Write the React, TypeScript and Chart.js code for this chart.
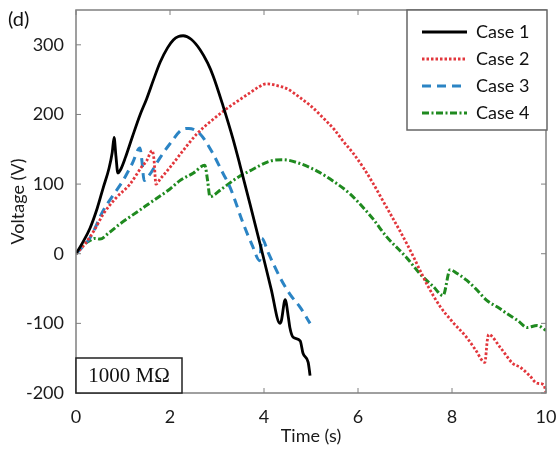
import { useEffect, useRef } from 'react';
import { Chart, registerables } from 'chart.js';

Chart.register(...registerables);

const seriesLabels = ['Case 1', 'Case 2', 'Case 3', 'Case 4'];
const seriesColors = ['#000000', '#e2363c', '#2b84c4', '#1f8a1f'];

const case1Time = [0, 0.15, 0.3, 0.45, 0.58, 0.7, 0.77, 0.81, 0.85, 0.89, 0.95, 1.05, 1.2, 1.36, 1.5, 1.65, 1.79, 1.95, 2.07, 2.18, 2.28, 2.45, 2.64, 2.8, 2.92, 3.13, 3.34, 3.49, 3.7, 3.95, 4.15, 4.34, 4.37, 4.45, 4.52, 4.55, 4.62, 4.77, 4.83, 4.94, 4.98];
const case1Voltage = [0, 17, 37, 65, 95, 122, 145, 167, 140, 116, 121, 138, 168, 199, 222, 250, 275, 296, 307, 312, 313, 308, 293, 274, 255, 212, 165, 127, 72, 5, -50, -100, -96, -66, -92, -106, -120, -125, -143, -156, -175];

const case2Time = [0, 0.19, 0.4, 0.58, 0.85, 1.15, 1.4, 1.5, 1.62, 1.66, 1.7, 1.8, 2.0, 2.3, 2.57, 2.9, 3.2, 3.5, 3.7, 3.9, 4.06, 4.3, 4.49, 4.77, 5.0, 5.26, 5.5, 5.68, 5.9, 6.11, 6.33, 6.53, 6.74, 6.89, 7.05, 7.17, 7.32, 7.5, 7.74, 8.0, 8.31, 8.5, 8.7, 8.75, 8.78, 9.02, 9.3, 9.45, 9.65, 9.81, 9.95, 10];
const case2Voltage = [0, 14, 35, 57, 80, 100, 125, 133, 148, 135, 100, 108, 124, 150, 172, 192, 208, 222, 231, 240, 244, 241, 237, 224, 212, 195, 178, 162, 144, 124, 100, 76, 51, 33, 13, -3, -24, -48, -75, -97, -120, -138, -156, -125, -116, -134, -158, -163, -175, -186, -188, -199];

const case3Time = [0, 0.3, 0.58, 0.8, 1.0, 1.2, 1.36, 1.4, 1.45, 1.55, 1.79, 2.0, 2.28, 2.4, 2.64, 2.92, 3.1, 3.28, 3.56, 3.75, 3.91, 3.95, 4.1, 4.34, 4.55, 4.77, 4.98];
const case3Voltage = [0, 23, 62, 85, 105, 130, 152, 135, 105, 112, 138, 158, 179, 180, 172, 143, 119, 95, 43, 12, -10, 22, 0, -34, -58, -77, -100];

const case4Time = [0, 0.15, 0.3, 0.4, 0.51, 0.7, 0.94, 1.3, 1.64, 2.0, 2.21, 2.5, 2.74, 2.8, 2.85, 3.1, 3.43, 3.7, 4.13, 4.41, 4.7, 5.12, 5.5, 5.83, 6.1, 6.32, 6.6, 7.04, 7.32, 7.6, 7.81, 7.96, 8.1, 8.31, 8.5, 8.74, 9.0, 9.17, 9.4, 9.6, 9.81, 10];
const case4Voltage = [0, 12, 19, 22, 21, 30, 43, 60, 76, 93, 105, 116, 127, 105, 82, 93, 109, 119, 133, 135, 131, 119, 103, 86, 67, 50, 25, -6, -29, -47, -60, -23, -28, -38, -50, -67, -78, -86, -96, -106, -103, -110];

const xTicks = [0, 2, 4, 6, 8, 10];
const yTicks = [-200, -100, 0, 100, 200, 300];

const panelLabel = '(d)';
const resistanceLabel = '1000 MΩ';

const FONT = 'Lato';

function toPoints(t: number[], v: number[]) {
  return t.map((x, i) => ({ x, y: v[i] }));
}

const dashes: number[][] = [[], [2.5, 2], [9, 6], [7, 2.5, 2, 2.5]];
const widths = [2.8, 2.8, 3, 3];

const framePlugin = {
  id: 'frameAndDecor',
  afterDatasetsDraw(chart: any) {
    const { ctx, chartArea, scales } = chart;
    const { left, right, top, bottom } = chartArea;
    const xs = scales.x;
    const ys = scales.y;
    ctx.save();
    ctx.strokeStyle = '#808080';
    ctx.lineWidth = 1.5;
    ctx.setLineDash([]);
    ctx.strokeRect(left, top, right - left, bottom - top);
    ctx.lineWidth = 1;
    const tl = 5;
    xTicks.forEach((v) => {
      const px = xs.getPixelForValue(v);
      ctx.beginPath();
      ctx.moveTo(px, bottom);
      ctx.lineTo(px, bottom - tl);
      ctx.moveTo(px, top);
      ctx.lineTo(px, top + tl);
      ctx.stroke();
    });
    yTicks.forEach((v) => {
      const py = ys.getPixelForValue(v);
      ctx.beginPath();
      ctx.moveTo(left, py);
      ctx.lineTo(left + tl, py);
      ctx.moveTo(right, py);
      ctx.lineTo(right - tl, py);
      ctx.stroke();
    });

    // legend
    const lx = 407, ly = top, lw = right - 407 + 1, lh = 120;
    ctx.fillStyle = '#ffffff';
    ctx.fillRect(lx, ly, lw, lh);
    ctx.strokeStyle = '#666666';
    ctx.lineWidth = 1.5;
    ctx.strokeRect(lx, ly, lw, lh);
    chart.data.datasets.forEach((ds: any, i: number) => {
      const cy = ly + 22 + i * 27;
      ctx.strokeStyle = ds.borderColor;
      ctx.lineWidth = ds.borderWidth;
      ctx.setLineDash(ds.borderDash || []);
      ctx.beginPath();
      ctx.moveTo(422, cy);
      ctx.lineTo(467, cy);
      ctx.stroke();
      ctx.setLineDash([]);
      ctx.fillStyle = '#111111';
      ctx.font = `18px ${FONT}`;
      ctx.textAlign = 'left';
      ctx.textBaseline = 'middle';
      ctx.fillText(ds.label, 476, cy);
    });

    // resistance box
    const bx = left, bw = 106, bh = 35, by = bottom - bh;
    ctx.fillStyle = '#ffffff';
    ctx.fillRect(bx, by, bw, bh);
    ctx.strokeStyle = '#222222';
    ctx.lineWidth = 1.5;
    ctx.strokeRect(bx, by, bw, bh);
    ctx.fillStyle = '#111111';
    ctx.font = `21px "Liberation Serif"`;
    ctx.textAlign = 'center';
    ctx.textBaseline = 'middle';
    ctx.fillText(resistanceLabel, bx + bw / 2, by + bh / 2 + 1);

    // panel label
    ctx.font = `20px ${FONT}`;
    ctx.textAlign = 'left';
    ctx.textBaseline = 'alphabetic';
    ctx.fillText(panelLabel, 8, 26);
    ctx.restore();
  },
};

export default function App() {
  const canvasRef = useRef<HTMLCanvasElement | null>(null);

  useEffect(() => {
    document.body.style.margin = '0';
    const canvas = canvasRef.current;
    if (!canvas) return;
    const seriesT = [case1Time, case2Time, case3Time, case4Time];
    const seriesV = [case1Voltage, case2Voltage, case3Voltage, case4Voltage];
    const chart = new Chart(canvas, {
      type: 'line',
      data: {
        datasets: seriesLabels.map((label, i) => ({
          label,
          data: toPoints(seriesT[i], seriesV[i]),
          borderColor: seriesColors[i],
          backgroundColor: seriesColors[i],
          borderWidth: widths[i],
          borderDash: dashes[i],
          pointRadius: 0,
          tension: 0,
          cubicInterpolationMode: 'monotone' as const,
          fill: false,
        })),
      },
      options: {
        responsive: false,
        animation: false,
        devicePixelRatio: 1,
        layout: { padding: { top: 10, right: 13, left: 0, bottom: 0 } },
        plugins: {
          legend: { display: false },
          tooltip: { enabled: false },
        },
        scales: {
          x: {
            type: 'linear',
            min: 0,
            max: 10,
            afterBuildTicks: (s: any) => {
              s.ticks = xTicks.map((value) => ({ value }));
            },
            afterFit: (s: any) => {
              s.height = 58;
              s.paddingLeft = 0;
              s.paddingRight = 0;
            },
            grid: { display: false, drawTicks: false },
            border: { display: false },
            ticks: {
              padding: 13,
              color: '#1a1a1a',
              font: { family: FONT, size: 18 },
              maxRotation: 0,
            },
            title: {
              display: true,
              text: 'Time (s)',
              color: '#1a1a1a',
              font: { family: FONT, size: 18 },
              padding: { top: 0, bottom: 4 },
            },
          },
          y: {
            type: 'linear',
            min: -200,
            max: 350,
            afterBuildTicks: (s: any) => {
              s.ticks = yTicks.map((value) => ({ value }));
            },
            afterFit: (s: any) => {
              s.width = 76;
              s.paddingTop = 0;
              s.paddingBottom = 0;
            },
            grid: { display: false, drawTicks: false },
            border: { display: false },
            ticks: {
              padding: 12,
              color: '#1a1a1a',
              font: { family: FONT, size: 18 },
            },
            title: {
              display: true,
              text: 'Voltage (V)',
              color: '#1a1a1a',
              font: { family: FONT, size: 18 },
              padding: { top: 7, bottom: 0 },
            },
          },
        },
      },
      plugins: [framePlugin],
    });
    return () => chart.destroy();
  }, []);

  return (
    <div style={{ position: 'absolute', left: 0, top: 0, width: 559, height: 451 }}>
      <canvas ref={canvasRef} width={559} height={451} />
    </div>
  );
}
